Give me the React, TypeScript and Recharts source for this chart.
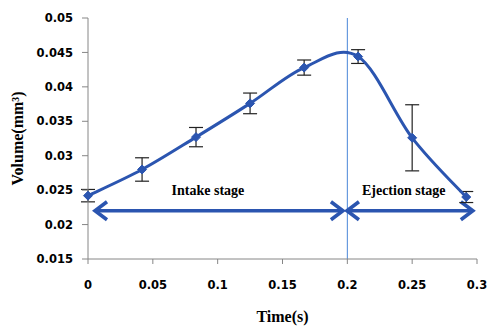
import React from 'react';
import { LineChart, Line, XAxis, YAxis, ErrorBar, ReferenceLine, ReferenceDot } from 'recharts';

const times = [0, 0.0417, 0.0833, 0.125, 0.1667, 0.2083, 0.25, 0.2917];
const volumes = [0.0242, 0.028, 0.0327, 0.0376, 0.0428, 0.0444, 0.0326, 0.024];
const errors = [0.0009, 0.0017, 0.0014, 0.0015, 0.0011, 0.001, 0.0048, 0.0008];
const xTicks = [0, 0.05, 0.1, 0.15, 0.2, 0.25, 0.3];
const yTicks = [0.015, 0.02, 0.025, 0.03, 0.035, 0.04, 0.045, 0.05];
const stageBoundary = 0.2;
const arrowLevel = 0.022;
const intakeArrow = [0.0054, 0.1966];
const ejectionArrow = [0.1997, 0.2968];
const stageLabels = [
  { text: 'Intake stage', x: 0.0925, y: 0.025 },
  { text: 'Ejection stage', x: 0.2435, y: 0.025 },
];

const data = times.map((t, i) => ({ t, v: volumes[i], e: errors[i] }));

const BLUE = '#2B55B0';

const catmullRom = (context: any) => {
  let pts: number[][] = [];
  return {
    areaStart() {},
    areaEnd() {},
    lineStart() {
      pts = [];
    },
    point(x: number, y: number) {
      pts.push([+x, +y]);
    },
    lineEnd() {
      const n = pts.length;
      if (!n) return;
      context.moveTo(pts[0][0], pts[0][1]);
      for (let i = 0; i < n - 1; i++) {
        const p0 = pts[i - 1] || pts[i];
        const p1 = pts[i];
        const p2 = pts[i + 1];
        const p3 = pts[i + 2] || p2;
        context.bezierCurveTo(
          p1[0] + (p2[0] - p0[0]) / 6,
          p1[1] + (p2[1] - p0[1]) / 6,
          p2[0] - (p3[0] - p1[0]) / 6,
          p2[1] - (p3[1] - p1[1]) / 6,
          p2[0],
          p2[1]
        );
      }
    },
  };
};

const Diamond = (props: any) => {
  const { cx, cy } = props;
  if (cx == null || cy == null) return null;
  const s = 4.5;
  return (
    <path
      d={`M${cx},${cy - s} L${cx + s},${cy} L${cx},${cy + s} L${cx - s},${cy} Z`}
      fill={BLUE}
      stroke={BLUE}
    />
  );
};

const ArrowShape = (props: any) => {
  const { x1, y1, x2, y2 } = props;
  return (
    <line
      x1={x1}
      y1={y1}
      x2={x2}
      y2={y2}
      stroke={BLUE}
      strokeWidth={3.6}
      markerStart="url(#chev)"
      markerEnd="url(#chev)"
    />
  );
};

const tickStyle = { fontFamily: 'DejaVu Sans', fontWeight: 'bold', fontSize: 11.5, fill: '#000' };
const serifBold = { fontFamily: 'Liberation Serif', fontWeight: 'bold', fill: '#000' };

export default function App() {
  return (
    <div style={{ position: 'absolute', left: 0, top: 0, width: 488, height: 326, background: '#fff' }}>
      <svg width={0} height={0} style={{ position: 'absolute' }}>
        <defs>
          <marker
            id="chev"
            viewBox="-2 -2 18 24"
            refX={12}
            refY={10}
            markerWidth={18}
            markerHeight={24}
            markerUnits="userSpaceOnUse"
            orient="auto-start-reverse"
            overflow="visible"
          >
            <path d="M0,1 L12,10 L0,19" fill="none" stroke={BLUE} strokeWidth={3.6} strokeLinejoin="miter" />
          </marker>
        </defs>
      </svg>
      <LineChart
        width={488}
        height={326}
        data={data}
        margin={{ top: 18, right: 11, bottom: 0, left: 0 }}
      >
        <XAxis
          dataKey="t"
          type="number"
          domain={[0, 0.3]}
          ticks={xTicks}
          height={67}
          tickSize={5}
          tickMargin={17}
          tick={tickStyle}
          axisLine={{ stroke: '#868686' }}
          tickLine={{ stroke: '#868686' }}
          label={{ value: 'Time(s)', position: 'insideBottom', offset: 4, style: { ...serifBold, fontSize: 16 } }}
        />
        <YAxis
          type="number"
          domain={[0.015, 0.05]}
          ticks={yTicks}
          width={88}
          tickSize={6}
          tickMargin={9}
          tick={tickStyle}
          axisLine={{ stroke: '#868686' }}
          tickLine={{ stroke: '#868686' }}
          label={{
            value: 'Volume(mm³)',
            angle: -90,
            position: 'insideLeft',
            offset: 17,
            style: { ...serifBold, fontSize: 16, textAnchor: 'middle' },
          }}
        />
        <ReferenceLine x={stageBoundary} stroke="#4A86D8" strokeWidth={1} strokeOpacity={1} />
        <ReferenceLine
          segment={[
            { x: intakeArrow[0], y: arrowLevel },
            { x: intakeArrow[1], y: arrowLevel },
          ]}
          shape={ArrowShape}
        />
        <ReferenceLine
          segment={[
            { x: ejectionArrow[0], y: arrowLevel },
            { x: ejectionArrow[1], y: arrowLevel },
          ]}
          shape={ArrowShape}
        />
        {stageLabels.map((s) => (
          <ReferenceDot
            key={s.text}
            x={s.x}
            y={s.y}
            r={0}
            fill="none"
            stroke="none"
            label={{ value: s.text, position: 'center', style: { ...serifBold, fontSize: 14 } }}
          />
        ))}
        <Line
          dataKey="v"
          type={catmullRom as any}
          stroke={BLUE}
          strokeWidth={3}
          dot={<Diamond />}
          activeDot={false}
          isAnimationActive={false}
        >
          <ErrorBar dataKey="e" width={7} stroke="#222" strokeWidth={1.2} direction="y" isAnimationActive={false} />
        </Line>
      </LineChart>
    </div>
  );
}
